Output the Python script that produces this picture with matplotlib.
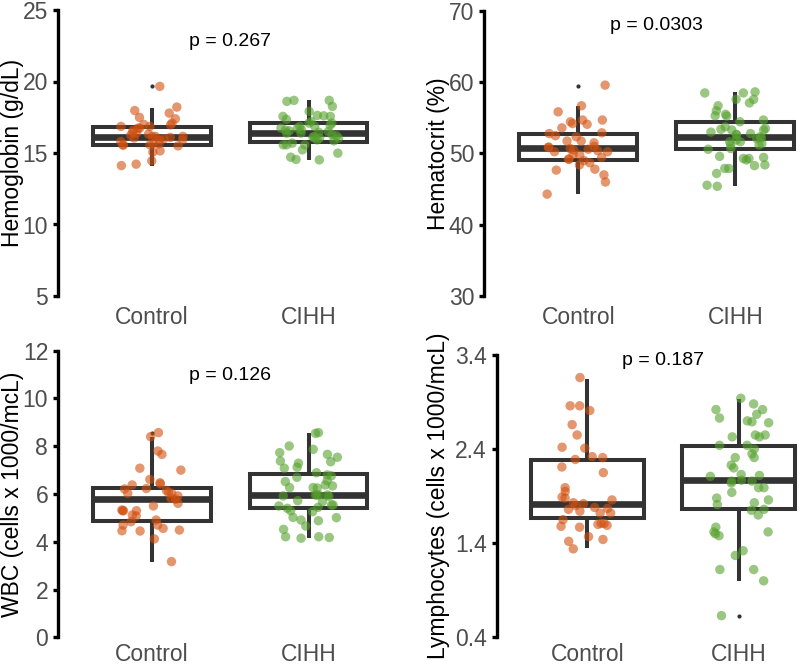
import numpy as np
import matplotlib
matplotlib.use("Agg")
import matplotlib.pyplot as plt

plt.rcParams['font.family'] = ['Liberation Sans', 'DejaVu Sans']

groups = ["Control", "CIHH"]
colors = ["#D2500F", "#55A02C"]

# Hemoglobin (g/dL)
hb_control = [19.66, 18.21, 17.79, 17.97, 17.49, 17.39, 16.86, 17.09, 16.97, 16.86,
              16.74, 16.74, 16.39, 16.32, 16.16, 16.16, 16.16, 16.09, 15.92, 15.92,
              16.05, 16.25, 15.64, 15.57, 15.55, 15.62, 15.57, 15.50, 15.15, 15.06,
              14.45, 14.22, 14.12, 16.45, 16.00, 16.60, 17.00, 15.80]
hb_cihh = [18.68, 18.61, 18.68, 18.26, 17.91, 17.56, 17.63, 17.60, 17.56, 17.21,
           17.09, 17.09, 16.86, 16.86, 16.74, 16.62, 16.74, 16.39, 16.50, 16.39,
           16.04, 16.16, 16.04, 15.92, 16.04, 15.57, 15.57, 15.69, 15.22, 15.57,
           14.99, 14.71, 14.52, 14.55, 16.30, 16.45, 16.60, 16.95, 16.20, 15.85,
           16.10, 17.35, 16.55]
hb_box = [dict(q1=15.57, med=16.13, q3=16.83, whislo=14.12, whishi=18.17, fliers=[19.66]),
          dict(q1=15.79, med=16.39, q3=17.11, whislo=14.52, whishi=18.68, fliers=[])]

# Hematocrit (%)
hct_control = [59.6, 56.7, 55.85, 54.7, 54.1, 54.7, 54.45, 54.2, 53.6, 52.8,
               52.9, 52.35, 51.75, 51.75, 51.5, 50.85, 50.7, 50.9, 50.25, 50.25,
               50.6, 50.5, 49.8, 49.45, 49.2, 49.0, 48.7, 49.2, 48.4, 47.8,
               47.0, 47.67, 46.0, 44.3, 51.0, 50.4, 52.5, 49.9]
hct_cihh = [58.65, 58.5, 58.5, 57.6, 57.6, 57.1, 56.7, 56.0, 55.25, 55.3,
            55.5, 54.7, 54.45, 53.75, 53.4, 53.3, 53.3, 53.5, 52.7, 52.6,
            52.35, 52.8, 51.65, 51.2, 51.2, 51.65, 51.4, 50.6, 50.7, 51.9,
            49.45, 49.6, 48.3, 49.1, 49.3, 49.3, 48.4, 47.9, 47.9, 47.2,
            45.55, 45.4, 52.2, 52.1, 53.0]
hct_box = [dict(q1=49.15, med=50.8, q3=52.7, whislo=44.3, whishi=56.65, fliers=[59.5]),
           dict(q1=50.65, med=52.3, q3=54.4, whislo=45.4, whishi=58.65, fliers=[])]

# WBC (cells x 1000/mcL)
wbc_control = [8.57, 8.40, 7.80, 7.66, 7.08, 7.00, 6.61, 6.47, 6.42, 6.38,
               6.21, 6.23, 6.06, 6.03, 6.15, 6.03, 5.92, 5.82, 5.78, 5.50,
               5.61, 5.30, 5.30, 5.33, 5.30, 5.08, 5.12, 4.91, 4.70, 4.70,
               4.84, 4.56, 4.46, 4.45, 4.49, 4.12, 3.17]
wbc_cihh = [8.57, 8.54, 8.01, 7.87, 7.73, 7.66, 7.54, 7.35, 7.38, 7.29,
            7.12, 7.08, 6.89, 6.80, 6.70, 6.76, 6.56, 6.52, 6.38, 6.34,
            6.27, 6.27, 6.25, 5.96, 5.92, 5.96, 5.96, 5.90, 5.96, 5.72,
            5.68, 5.54, 5.54, 5.40, 5.50, 5.44, 5.30, 5.26, 5.01, 4.91,
            5.02, 4.66, 4.88, 4.52, 4.15, 4.21, 4.21, 4.18]
wbc_box = [dict(q1=4.88, med=5.78, q3=6.27, whislo=3.17, whishi=8.37, fliers=[8.55]),
           dict(q1=5.41, med=5.96, q3=6.83, whislo=4.15, whishi=8.57, fliers=[])]

# Lymphocytes (cells x 1000/mcL)
lym_control = [3.16, 2.86, 2.81, 2.86, 2.66, 2.55, 2.41, 2.42, 2.31, 2.32,
               2.29, 2.21, 2.15, 1.99, 1.95, 1.88, 1.89, 1.86, 1.83, 1.80,
               1.77, 1.78, 1.76, 1.82, 1.72, 1.74, 1.72, 1.65, 1.61, 1.61,
               1.59, 1.60, 1.57, 1.58, 1.47, 1.44, 1.42, 1.34]
lym_cihh = [2.94, 2.88, 2.82, 2.82, 2.73, 2.77, 2.70, 2.69, 2.68, 2.55,
            2.53, 2.55, 2.53, 2.44, 2.44, 2.40, 2.31, 2.35, 2.31, 2.23,
            2.20, 2.11, 2.12, 2.13, 2.06, 2.07, 2.06, 2.04, 1.99, 1.99,
            1.94, 1.88, 1.83, 1.86, 1.81, 1.75, 1.70, 1.76, 1.57, 1.52,
            1.52, 1.50, 1.48, 1.32, 1.27, 1.12, 1.12, 1.00, 0.63]
lym_box = [dict(q1=1.67, med=1.815, q3=2.28, whislo=1.35, whishi=3.15, fliers=[]),
           dict(q1=1.76, med=2.07, q3=2.43, whislo=1.00, whishi=2.93, fliers=[0.63])]

p_labels = ["p = 0.267", "p = 0.0303", "p = 0.126", "p = 0.187"]

W, H = 800, 668
fig = plt.figure(figsize=(W / 100, H / 100), dpi=100)


def rect(l, t, r, b):
    return [l / W, 1 - b / H, (r - l) / W, (b - t) / H]


rng = np.random.default_rng(7)
DARK = "#333333"


def panel(box, ctrl, cihh, stats, ylim, yticks, ylabel, ptxt, py, labx, xpad):
    ax = fig.add_axes(box)
    ax.bxp(stats, positions=[1, 2], widths=0.75, showcaps=False, patch_artist=True,
           boxprops=dict(facecolor="white", edgecolor=DARK, linewidth=2.9),
           medianprops=dict(color=DARK, linewidth=4.8, solid_capstyle="butt"),
           whiskerprops=dict(color=DARK, linewidth=2.9, solid_capstyle="butt"),
           flierprops=dict(marker="o", markersize=3, markerfacecolor=DARK,
                           markeredgecolor="none"))
    # horizontal jitter of the points
    for i, vals in enumerate([ctrl, cihh]):
        jit = rng.uniform(-0.2, 0.2, len(vals))
        ax.scatter(i + 1 + jit, vals, s=46, color=colors[i], alpha=0.6,
                   edgecolors="none", zorder=4)
    ax.set_xlim(0.4, 2.6)
    ax.set_ylim(*ylim)
    ax.set_yticks(yticks)
    ax.set_yticklabels([f"{t:g}" if t >= 1 or t == 0 else f"{t:.1f}" for t in yticks])
    ax.set_xticks([1, 2])
    ax.set_xticklabels(groups)
    for s in ["top", "right", "bottom"]:
        ax.spines[s].set_visible(False)
    ax.spines["left"].set_linewidth(2.4)
    ax.spines["left"].set_color("black")
    ax.tick_params(axis="y", length=3.6, width=2.4, color="black", pad=3.5,
                   labelsize=16.5, labelcolor="#4D4D4D")
    ax.tick_params(axis="x", length=0, pad=xpad, labelsize=16.5, labelcolor="#4D4D4D")
    ax.set_ylabel(ylabel, fontsize=16.5, color="black")
    ax.yaxis.set_label_coords(labx, 0.5)
    ax.text(1.5, py, ptxt, ha="center", va="center", fontsize=14, color="black")
    ax.set_facecolor("none")
    return ax


panel(rect(58, 10, 402.5, 296), hb_control, hb_cihh, hb_box, (5, 25),
      [5, 10, 15, 20, 25], "Hemoglobin (g/dL)", p_labels[0], 22.8, -0.100, 7)
panel(rect(484, 11, 829.5, 296), hct_control, hct_cihh, hct_box, (30, 70),
      [30, 40, 50, 60, 70], "Hematocrit (%)", p_labels[1], 68.0, -0.099, 7)
panel(rect(58, 350.7, 402.5, 637.3), wbc_control, wbc_cihh, wbc_box, (0, 12),
      [0, 2, 4, 6, 8, 10, 12], "WBC (cells x 1000/mcL)", p_labels[2], 10.95, -0.100, 4)
panel(rect(496.7, 355, 829.3, 637.3), lym_control, lym_cihh, lym_box, (0.4, 3.4),
      [0.4, 1.4, 2.4, 3.4], "Lymphocytes (cells x 1000/mcL)", p_labels[3], 3.34, -0.140, 4)

fig.savefig("out.png", dpi=100)
